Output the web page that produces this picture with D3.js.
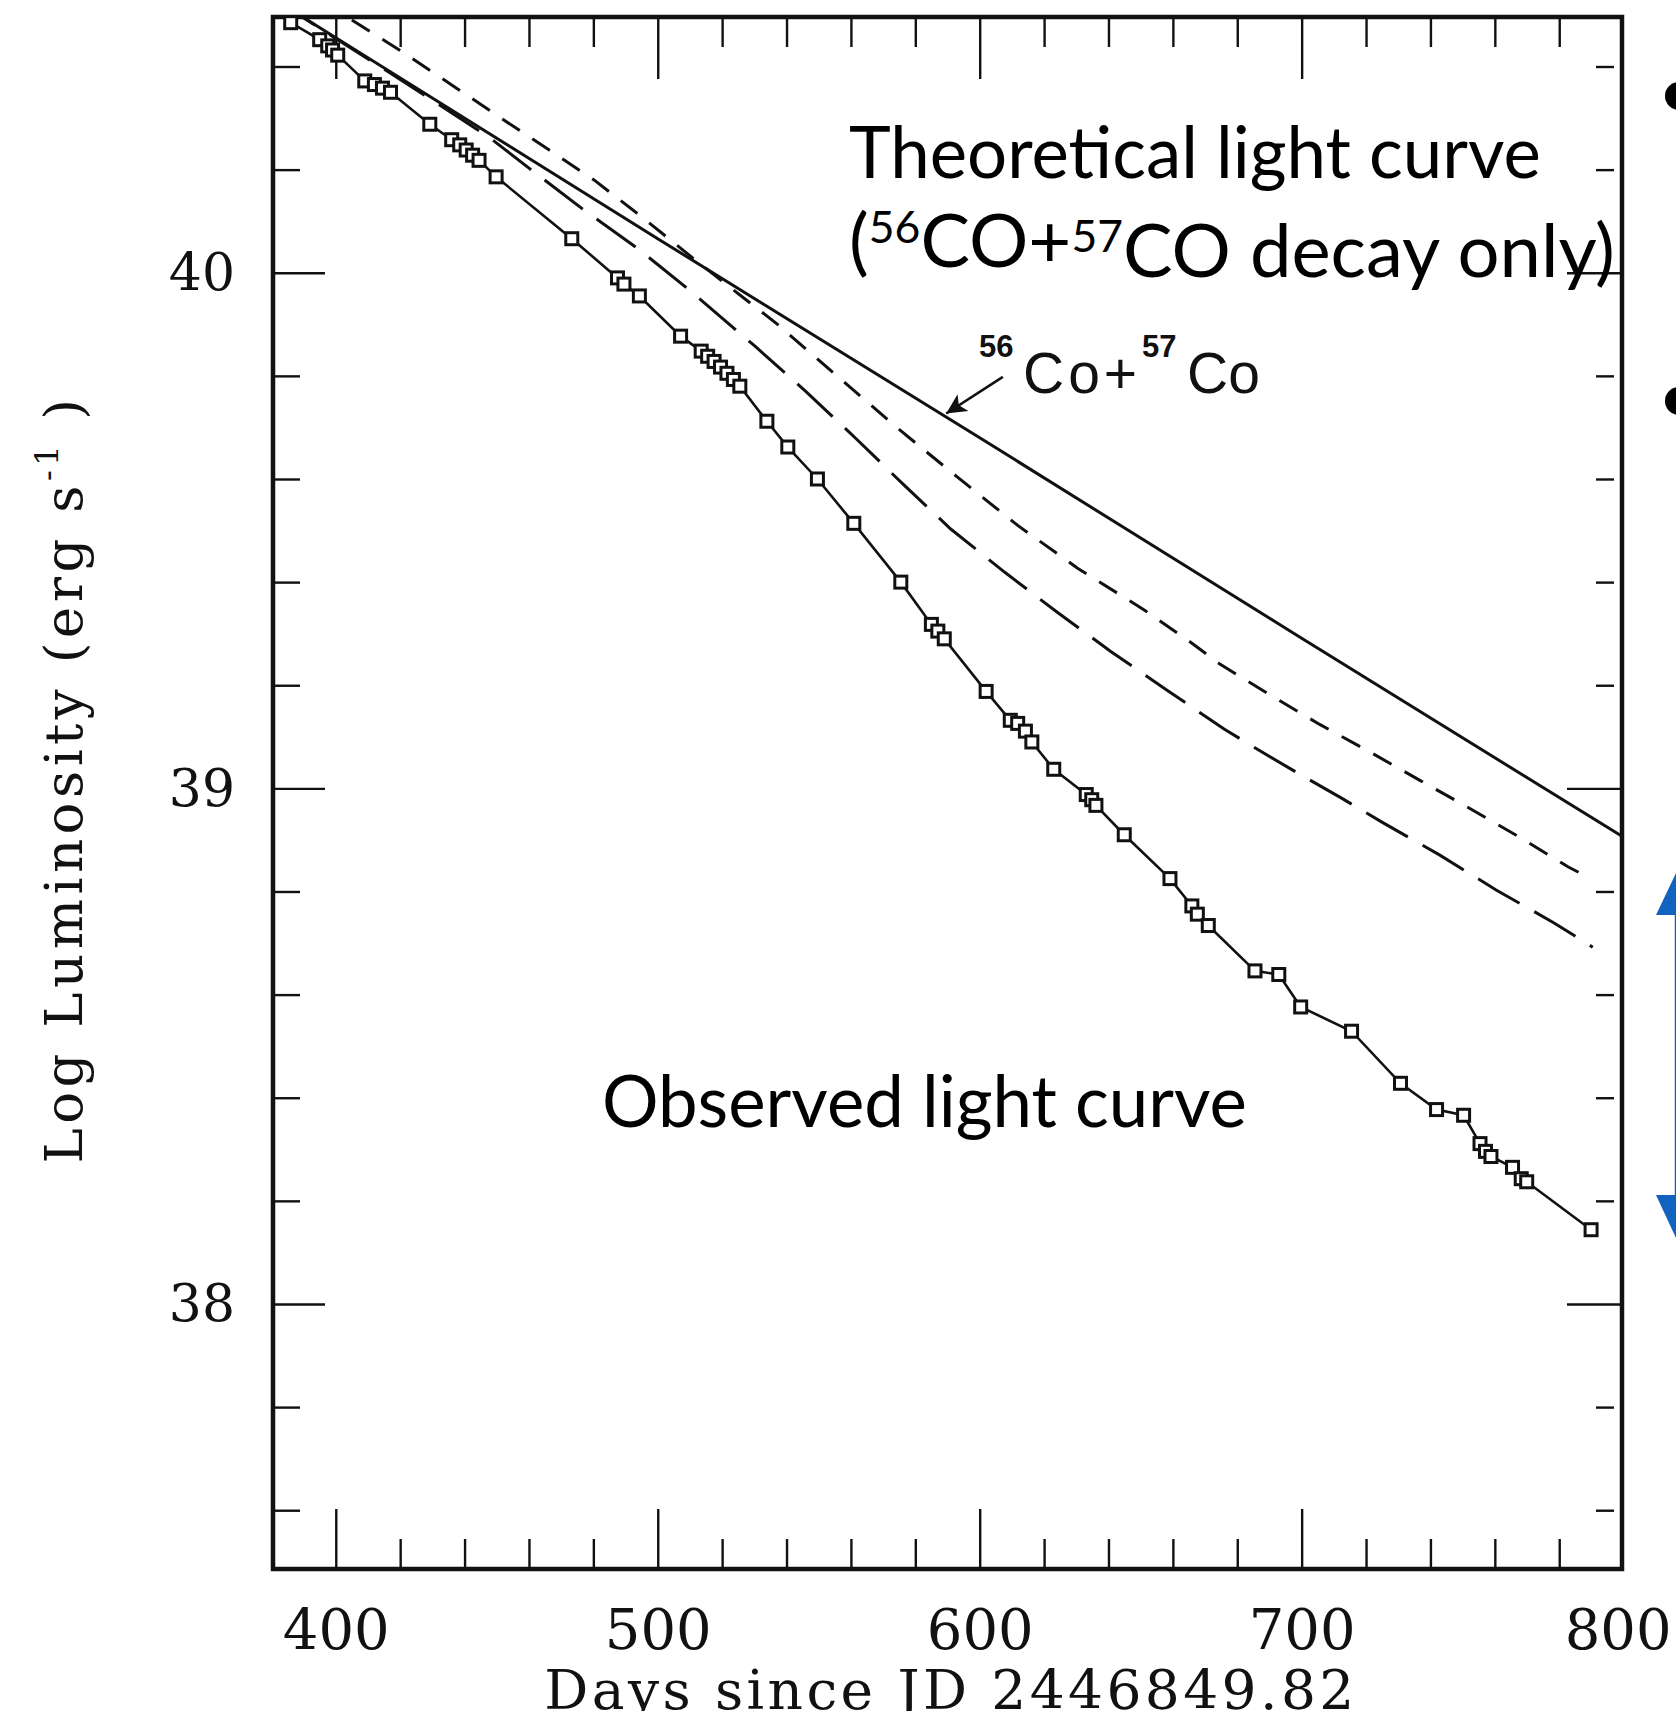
<!DOCTYPE html>
<html>
<head>
<meta charset="utf-8">
<title>Light curve</title>
<script src="https://cdn.jsdelivr.net/npm/d3@7"></script>
<style>
    body { margin: 0; background: white; }
    svg { display: block; }
</style>
</head>
<body>
<div id="chart"></div>
<script>
// observed bolometric light curve, [days, log L]
let observed = [
    [386, 40.485], [395, 40.452], [397.5, 40.44], [399, 40.432], [400.6, 40.422],
    [409, 40.372], [412, 40.365], [414.5, 40.358], [417, 40.35],
    [429.2, 40.288],
    [436, 40.258], [438.5, 40.248], [440.5, 40.238], [442.5, 40.228], [444.5, 40.218],
    [449.8, 40.186],
    [473.3, 40.066],
    [487.5, 39.99], [489.5, 39.978],
    [494.3, 39.955],
    [507.1, 39.877],
    [513.5, 39.848], [515.5, 39.838], [517.5, 39.828], [519.5, 39.817], [521.5, 39.805], [523.5, 39.793], [525.5, 39.78],
    [533.9, 39.712],
    [540.4, 39.662],
    [549.6, 39.6],
    [560.9, 39.514],
    [575.5, 39.4],
    [585, 39.318], [587, 39.305], [589, 39.29],
    [602, 39.188],
    [609.5, 39.132], [611.8, 39.126], [614.2, 39.111],
    [616.2, 39.09],
    [623, 39.037],
    [633.1, 38.988], [634.8, 38.978], [636.1, 38.967],
    [644.9, 38.91],
    [659.1, 38.825],
    [665.9, 38.772], [667.6, 38.756], [671, 38.734],
    [685.5, 38.646], [692.9, 38.639],
    [699.7, 38.576],
    [715.5, 38.529],
    [730.7, 38.428],
    [741.9, 38.377], [750.3, 38.366],
    [755.4, 38.311], [757.1, 38.296], [758.8, 38.286],
    [765.5, 38.265], [768.2, 38.243], [769.9, 38.237],
    [789.9, 38.144]
]

// 56Co + 57Co decay only (solid)
let cobaltDecay = [
    [381, 40.53], [401, 40.452], [500, 40.066], [600, 39.68], [700, 39.291], [800, 38.905]
]

// short dashed model
let shortDashModel = [
    [405, 40.49], [420.8, 40.428], [437.5, 40.358], [450.8, 40.302], [466.3, 40.238],
    [480.2, 40.18], [495.1, 40.108], [509, 40.038], [513.6, 40.015], [537.4, 39.899],
    [556, 39.798], [574.6, 39.698], [593.2, 39.603], [611.8, 39.51], [630.4, 39.427],
    [651.1, 39.346], [665.4, 39.284], [674.6, 39.241], [689.2, 39.185], [705.6, 39.124],
    [720.8, 39.072], [736.6, 39.016], [751.7, 38.963], [767.5, 38.906], [782.7, 38.848],
    [788.9, 38.828]
]

// long dashed model
let longDashModel = [
    [381, 40.53], [420, 40.375], [448, 40.261], [460, 40.203], [477, 40.122],
    [494, 40.046], [510.5, 39.963], [530.3, 39.857], [545.8, 39.771], [561.3, 39.68],
    [576.2, 39.59], [591, 39.503], [607.8, 39.419], [624.2, 39.341], [640.6, 39.266],
    [658.3, 39.19], [675.9, 39.115], [688.6, 39.067], [700.6, 39.023], [712.4, 38.981],
    [724.8, 38.935], [742.8, 38.871], [760.4, 38.803], [778.4, 38.739], [790.4, 38.692]
]

let xMajorTicks = [400, 500, 600, 700, 800]
let yMajorTicks = [38, 39, 40]

let margins = {top: 17, right: 54, bottom: 142, left: 273}
let fullWidth = 1676
let fullHeight = 1711
let width = fullWidth - margins.left - margins.right
let height = fullHeight - margins.top - margins.bottom

let xMinorTicks = d3.range(380, 801, 20).filter(d => d > 380 && !xMajorTicks.includes(d))
let yMinorTicks = d3.range(376, 405, 2).map(d => d / 10).filter(d => !yMajorTicks.includes(d))

let svg = d3.select("#chart").append("svg")
    .attr("width", fullWidth)
    .attr("height", fullHeight)

let g = svg.append("g")
    .attr("transform", `translate(${margins.left}, ${margins.top})`)

let xScale = d3.scaleLinear().domain([380.5, 799.5]).range([0, width])
let yScale = d3.scaleLinear().domain([37.486, 40.496]).range([height, 0])

let serif = "'DejaVu Serif', serif"
let ink = "#111"

// ticks all point inward, like the original frame
function tickStyle(sel) {
    sel.select(".domain").remove()
    sel.selectAll(".tick line").attr("stroke", ink).attr("stroke-width", 2.4)
}

g.append("g").attr("transform", `translate(0, ${height})`)
    .call(d3.axisBottom(xScale).tickValues(xMinorTicks).tickSizeInner(-30).tickFormat(""))
    .call(tickStyle)
g.append("g").attr("transform", `translate(0, ${height})`)
    .call(d3.axisBottom(xScale).tickValues(xMajorTicks).tickSizeInner(-60).tickPadding(40).tickFormat(d3.format("d")))
    .call(tickStyle)
    .call(a => a.selectAll(".tick text")
        .attr("font-family", serif).attr("font-size", 56).attr("fill", ink))
    .call(a => a.selectAll(".tick").filter(d => d > 799.5).select("line").remove())
    // last label sits on the frame corner, keep it inside the page
    .call(a => a.selectAll(".tick").filter(d => d === 800).select("text").attr("dx", -6))

g.append("g")
    .call(d3.axisTop(xScale).tickValues(xMinorTicks).tickSizeInner(-30).tickFormat(""))
    .call(tickStyle)
g.append("g")
    .call(d3.axisTop(xScale).tickValues(xMajorTicks.filter(d => d < 799.5)).tickSizeInner(-62).tickFormat(""))
    .call(tickStyle)

g.append("g")
    .call(d3.axisLeft(yScale).tickValues(yMinorTicks).tickSizeInner(-27).tickFormat(""))
    .call(tickStyle)
g.append("g")
    .call(d3.axisLeft(yScale).tickValues(yMajorTicks).tickSizeInner(-52).tickPadding(38).tickFormat(d3.format("d")))
    .call(tickStyle)
    .call(a => a.selectAll(".tick text")
        .attr("font-family", serif).attr("font-size", 52).attr("fill", ink))

// right minor ticks are short dashes a little off the frame
g.append("g").attr("transform", `translate(${width}, 0)`)
    .call(d3.axisRight(yScale).tickValues(yMinorTicks).tickSizeInner(-26).tickFormat(""))
    .call(tickStyle)
    .call(a => a.selectAll(".tick line").attr("x1", -8))
g.append("g").attr("transform", `translate(${width}, 0)`)
    .call(d3.axisRight(yScale).tickValues(yMajorTicks).tickSizeInner(-55).tickFormat(""))
    .call(tickStyle)

// frame
g.append("rect")
    .attr("width", width).attr("height", height)
    .attr("fill", "none").attr("stroke", ink).attr("stroke-width", 4.5)

g.append("defs").append("clipPath").attr("id", "clip")
    .append("rect").attr("width", width).attr("height", height)

let plot = g.append("g").attr("clip-path", "url(#clip)")

let line = d3.line().x(d => xScale(d[0])).y(d => yScale(d[1]))

plot.append("path").datum(cobaltDecay)
    .attr("d", line).attr("fill", "none").attr("stroke", ink).attr("stroke-width", 3)
plot.append("path").datum(shortDashModel)
    .attr("d", line).attr("fill", "none").attr("stroke", ink).attr("stroke-width", 3)
    .attr("stroke-dasharray", "21,15")
plot.append("path").datum(longDashModel)
    .attr("d", line).attr("fill", "none").attr("stroke", ink).attr("stroke-width", 3)
    .attr("stroke-dasharray", "48,17")
plot.append("path").datum(observed)
    .attr("d", line).attr("fill", "none").attr("stroke", ink).attr("stroke-width", 2.6)

let markerSize = 12
plot.selectAll("rect.obs").data(observed).enter().append("rect")
    .attr("class", "obs")
    .attr("x", d => xScale(d[0]) - markerSize / 2)
    .attr("y", d => yScale(d[1]) - markerSize / 2)
    .attr("width", markerSize).attr("height", markerSize)
    .attr("fill", "white").attr("stroke", ink).attr("stroke-width", 3)

// 56Co+57Co label with arrow onto the solid curve
let arrowTail = [607.2, 39.798]
let arrowTip = [589.6, 39.727]
svg.append("defs").append("marker").attr("id", "head")
    .attr("viewBox", "0 0 10 10").attr("refX", 10).attr("refY", 5)
    .attr("markerWidth", 30).attr("markerHeight", 20)
    .attr("markerUnits", "userSpaceOnUse").attr("orient", "auto")
    .append("path").attr("d", "M0,0 L10,5 L0,10 L2.5,5 Z").attr("fill", ink)
g.append("line")
    .attr("x1", xScale(arrowTail[0])).attr("y1", yScale(arrowTail[1]))
    .attr("x2", xScale(arrowTip[0])).attr("y2", yScale(arrowTip[1]))
    .attr("stroke", ink).attr("stroke-width", 2.6).attr("marker-end", "url(#head)")

let coLabel = svg.append("text")
    .attr("font-family", "'Liberation Sans', Arial, sans-serif").attr("fill", ink)
coLabel.append("tspan").attr("x", 979).attr("y", 357).attr("font-size", 31).attr("font-weight", "bold").text("56")
coLabel.append("tspan").attr("x", 1023).attr("y", 393).attr("font-size", 57).attr("letter-spacing", 4).text("Co+")
coLabel.append("tspan").attr("x", 1142).attr("y", 357).attr("font-size", 31).attr("font-weight", "bold").text("57")
coLabel.append("tspan").attr("x", 1187).attr("y", 393).attr("font-size", 57).text("Co")

// axis titles
svg.append("text")
    .attr("x", 951).attr("y", 1709)
    .attr("text-anchor", "middle")
    .attr("font-family", serif).attr("font-size", 55).attr("letter-spacing", 3.4).attr("fill", ink)
    .text("Days since JD 2446849.82")

let yTitle = svg.append("text")
    .attr("transform", "translate(82, 779) rotate(-90)")
    .attr("text-anchor", "middle")
    .attr("font-family", serif).attr("font-size", 53).attr("letter-spacing", 4.5).attr("fill", ink)
yTitle.append("tspan").text("Log Luminosity (erg s")
yTitle.append("tspan").attr("font-size", "0.6em").attr("dy", "-0.75em").text("-1")
yTitle.append("tspan").attr("dy", "0.45em").text(" )")

// slide overlay text
let sans = "Lato, 'Open Sans', sans-serif"

function fitWidth(text, target) {
    let w = text.node().getComputedTextLength()
    let size = parseFloat(text.attr("font-size"))
    text.attr("font-size", size * target / w)
}

let t1 = svg.append("text").attr("x", 849).attr("y", 178)
    .attr("font-family", sans).attr("font-size", 70).attr("fill", "black")
    .text("Theoretical light curve")
fitWidth(t1, 692)

let t2 = svg.append("text").attr("x", 849).attr("y", 267)
    .attr("font-family", sans).attr("font-size", 70).attr("fill", "black")
t2.append("tspan").text("(")
t2.append("tspan").attr("font-size", "0.6em").attr("dy", "-0.55em").text("56")
t2.append("tspan").attr("dy", "0.33em").text("CO+")
t2.append("tspan").attr("font-size", "0.6em").attr("dy", "-0.33em").text("57")
t2.append("tspan").attr("dy", "0.33em").text("CO decay only)")
fitWidth(t2, 766)

let t3 = svg.append("text").attr("x", 602).attr("y", 1127)
    .attr("font-family", sans).attr("font-size", 70).attr("fill", "black")
    .text("Observed light curve")
fitWidth(t3, 645)

// bullets cut by the slide edge
svg.selectAll("circle.bullet").data([96, 401]).enter().append("circle")
    .attr("class", "bullet")
    .attr("cx", 1679).attr("cy", d => d).attr("r", 14).attr("fill", "black")

// blue double arrow at the right edge
let blue = "#1262c0"
let arrowX = 1676
svg.append("line")
    .attr("x1", arrowX).attr("x2", arrowX).attr("y1", 905).attr("y2", 1205)
    .attr("stroke", blue).attr("stroke-width", 2.5)
svg.append("path")
    .attr("d", `M${arrowX},873 L${arrowX - 20},915 L${arrowX + 20},915 Z`).attr("fill", blue)
svg.append("path")
    .attr("d", `M${arrowX},1238 L${arrowX - 20},1195 L${arrowX + 20},1195 Z`).attr("fill", blue)
</script>
</body>
</html>
